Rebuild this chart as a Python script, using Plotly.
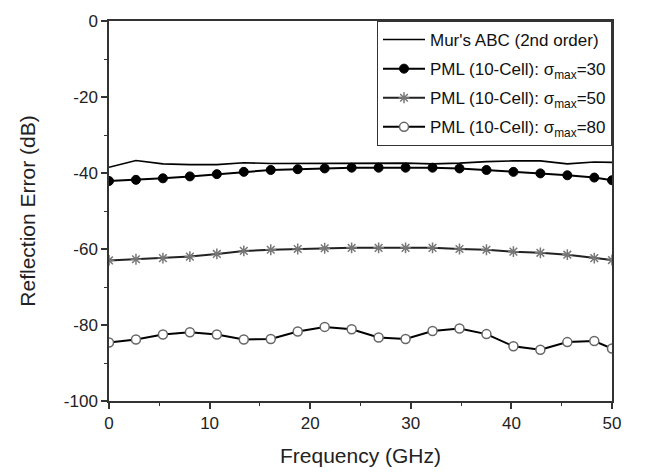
import plotly.graph_objects as go

freq = [0, 2.68, 5.36, 8.04, 10.72, 13.4, 16.08, 18.76, 21.44, 24.12, 26.8,
        29.48, 32.16, 34.84, 37.52, 40.2, 42.88, 45.56, 48.24, 50]

mur = [-38.5, -36.7, -37.6, -37.8, -37.8, -37.3, -37.5, -37.5, -37.4, -37.4,
       -37.4, -37.4, -37.6, -37.4, -37.0, -36.8, -36.8, -37.6, -37.1, -37.2]
pml30 = [-42.1, -41.8, -41.4, -40.9, -40.3, -39.7, -39.2, -39.0, -38.8, -38.6,
         -38.6, -38.6, -38.6, -38.8, -39.2, -39.7, -40.1, -40.6, -41.2, -41.9]
pml50 = [-63.0, -62.7, -62.4, -62.0, -61.3, -60.5, -60.2, -60.0, -59.8, -59.7,
         -59.7, -59.7, -59.7, -60.0, -60.2, -60.7, -61.0, -61.5, -62.4, -62.9]
pml80 = [-84.6, -83.8, -82.5, -81.9, -82.5, -83.8, -83.7, -81.7, -80.5, -81.1,
         -83.3, -83.7, -81.6, -80.9, -82.4, -85.6, -86.5, -84.5, -84.2, -86.2]

names = ["Mur's ABC (2nd order)",
         "PML (10-Cell): σ<sub>max</sub>=30",
         "PML (10-Cell): σ<sub>max</sub>=50",
         "PML (10-Cell): σ<sub>max</sub>=80"]

x_ticks = [0, 10, 20, 30, 40, 50]
x_labels = ["0", "10", "20", "30", "40", "50"]
y_ticks = [0, -20, -40, -60, -80, -100]
y_labels = ["0", "-20", "-40", "-60", "-80", "-100"]

FONT = "Liberation Sans, Arial, sans-serif"

fig = go.Figure()
fig.add_trace(go.Scatter(x=freq, y=mur, mode="lines", name=names[0], legendgroup="a",
                         line=dict(color="black", width=1.6)))
fig.add_trace(go.Scatter(x=freq, y=pml30, mode="lines+markers", name=names[1], legendgroup="b",
                         line=dict(color="black", width=2),
                         marker=dict(symbol="circle", size=9, color="black",
                                     line=dict(color="black", width=1))))
fig.add_trace(go.Scatter(x=freq, y=pml50, mode="lines+markers", name=names[2], legendgroup="c",
                         line=dict(color="#222222", width=2),
                         marker=dict(symbol="asterisk-open", size=9, color="#777777",
                                     line=dict(color="#777777", width=1.5))))
fig.add_trace(go.Scatter(x=freq, y=pml80, mode="lines+markers", name=names[3], legendgroup="d",
                         line=dict(color="black", width=2),
                         marker=dict(symbol="circle", size=9, color="white",
                                     line=dict(color="#666666", width=1.5))))

fig.update_layout(
    width=646, height=476,
    margin=dict(l=109, r=34, t=16, b=70),
    paper_bgcolor="white", plot_bgcolor="white",
    font=dict(family=FONT, size=17, color="#222222"),
    showlegend=True,
    legend=dict(x=1, y=1, xanchor="right", yanchor="top",
                bgcolor="white", bordercolor="#333333", borderwidth=1,
                font=dict(family=FONT, size=17, color="#111111"),
                tracegroupgap=4, itemwidth=42),
)
fig.update_xaxes(
    range=[0, 50], tickvals=x_ticks, ticktext=x_labels,
    showline=True, linecolor="#333333", linewidth=1.5, mirror=True,
    ticks="outside", ticklen=6, tickwidth=1.5, tickcolor="#333333",
    minor=dict(ticks="outside", ticklen=3, tickwidth=1, dtick=5, tickcolor="#333333"),
    showgrid=False, zeroline=False,
    title=dict(text="Frequency (GHz)", font=dict(size=21), standoff=16),
    tickfont=dict(size=17),
)
fig.update_yaxes(
    range=[-100, 0], tickvals=y_ticks, ticktext=y_labels,
    showline=True, linecolor="#333333", linewidth=1.5, mirror=True,
    ticks="outside", ticklen=6, tickwidth=1.5, tickcolor="#333333",
    minor=dict(ticks="outside", ticklen=3, tickwidth=1, dtick=10, tickcolor="#333333"),
    showgrid=False, zeroline=False,
    title=dict(text="Reflection Error (dB)", font=dict(size=21), standoff=22),
    tickfont=dict(size=17),
)

fig.write_html("out.html")
